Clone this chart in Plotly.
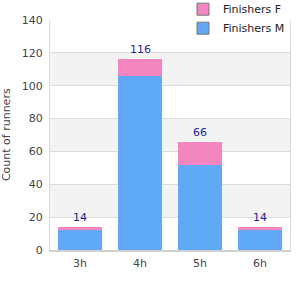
import plotly.graph_objects as go

categories = ["3h", "4h", "5h", "6h"]
finishers_m = [12, 106, 52, 12]
finishers_f = [2, 10, 14, 2]
totals = [m + f for m, f in zip(finishers_m, finishers_f)]
y_ticks = [0, 20, 40, 60, 80, 100, 120, 140]

color_m = "#60a9f6"
color_f = "#f386bf"

fig = go.Figure()
fig.add_trace(go.Bar(x=categories, y=finishers_m, name="Finishers M", showlegend=False,
                     marker=dict(color=color_m, line=dict(width=0))))
fig.add_trace(go.Bar(x=categories, y=finishers_f, name="Finishers F", showlegend=False,
                     marker=dict(color=color_f, line=dict(width=0))))
# legend-only entries with grey swatch border
fig.add_trace(go.Bar(x=[categories[0]], y=[None], name="Finishers M", hoverinfo="skip",
                     marker=dict(color=color_m, line=dict(width=1, color="#777"))))
fig.add_trace(go.Bar(x=[categories[0]], y=[None], name="Finishers F", hoverinfo="skip",
                     marker=dict(color=color_f, line=dict(width=1, color="#777"))))

for c, t in zip(categories, totals):
    fig.add_annotation(x=c, y=t, text=str(t), showarrow=False, yanchor="bottom", yshift=1,
                       font=dict(color="#1f1f99", size=11))

# y-axis title
fig.add_annotation(text="Count of runners", xref="paper", yref="paper", x=-0.183, y=0.5,
                   xanchor="center", yanchor="middle", textangle=-90, showarrow=False,
                   font=dict(size=11, color="#444"))

shapes = []
for i in range(len(y_ticks) - 1):
    if i % 2 == 1:
        shapes.append(dict(type="rect", xref="paper", yref="y", x0=0, x1=1,
                           y0=y_ticks[i], y1=y_ticks[i + 1], fillcolor="#f3f3f3",
                           line=dict(width=0), layer="below"))

fig.update_layout(
    width=300, height=300,
    margin=dict(l=50, r=10, t=20, b=50, autoexpand=False),
    barmode="stack", bargap=0.28,
    plot_bgcolor="white", paper_bgcolor="white",
    font=dict(family="DejaVu Sans", size=11, color="#444"),
    shapes=shapes,
    legend=dict(x=1.0, xanchor="right", y=1.11, yanchor="top", yref="paper",
                traceorder="reversed", bgcolor="white", font=dict(size=11, color="#222"),
                itemwidth=30, tracegroupgap=0, borderwidth=0),
    xaxis=dict(showgrid=False, showline=True, linecolor="#d0d0d0", linewidth=2,
               ticks="", tickfont=dict(size=11, color="#444"), mirror=False,
               ticklabelstandoff=2),
    yaxis=dict(range=[0, 140], tickvals=y_ticks, showgrid=True, gridcolor="#dcdcdc",
               showline=True, linecolor="#dcdcdc", mirror=True, zeroline=False,
               tickfont=dict(size=11, color="#444"), ticklabelstandoff=4),
)
fig.write_html("out.html")
